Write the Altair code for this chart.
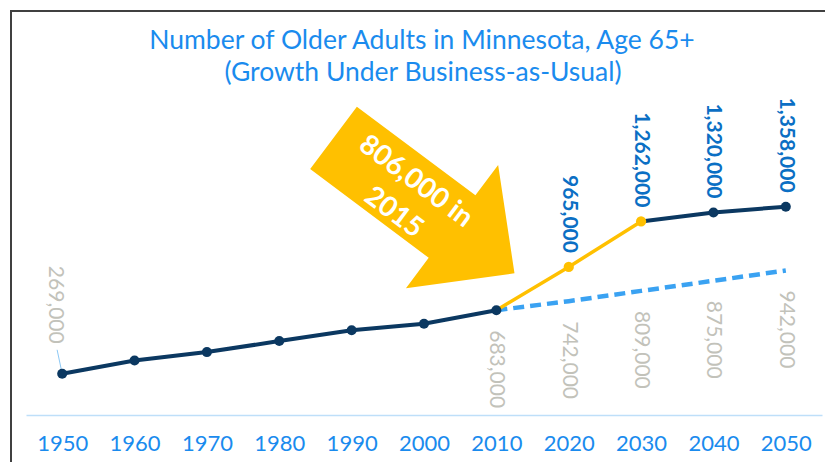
import altair as alt
import pandas as pd

# ---------------- data ----------------
years = [1950, 1960, 1970, 1980, 1990, 2000, 2010, 2020, 2030, 2040, 2050]

hist_years = [1950, 1960, 1970, 1980, 1990, 2000, 2010]
hist_values = [269000, 355000, 410000, 482000, 552000, 595000, 683000]

boom_years = [2010, 2020, 2030]
boom_values = [683000, 965000, 1262000]

late_years = [2030, 2040, 2050]
late_values = [1262000, 1320000, 1358000]

bau_years = [2010, 2020, 2030, 2040, 2050]
bau_values = [683000, 742000, 809000, 875000, 942000]

title_line1 = "Number of Older Adults in Minnesota, Age 65+"
title_line2 = "(Growth Under Business-as-Usual)"
arrow_line1 = "806,000 in"
arrow_line2 = "2015"

# annotation anchors (data space)
arrow_year, arrow_value = [2000], [1365000]
leader_end_year, leader_end_value = 1949.3, 425000

# ---------------- styles ----------------
NAVY = "#0B3861"
GOLD = "#FFC000"
DASH = "#3AA2F2"
TITLE_BLUE = "#1A8BEE"
LABEL_BLUE = "#0B6FC4"
GRAY = "#C2C2BA"
FONT = "Lato"

hist = pd.DataFrame({"year": hist_years, "value": hist_values})
boom = pd.DataFrame({"year": boom_years, "value": boom_values})
late = pd.DataFrame({"year": late_years, "value": late_values})
bau = pd.DataFrame({"year": bau_years, "value": bau_values})

navy_pts = pd.DataFrame({"year": hist_years + late_years[1:],
                         "value": hist_values + late_values[1:]})
gold_pts = pd.DataFrame({"year": boom_years[1:], "value": boom_values[1:]})

gray_below = pd.DataFrame({"year": [hist_years[-1]] + bau_years[1:],
                           "value": [hist_values[-1]] + bau_values[1:]})
gray_above = pd.DataFrame({"year": hist_years[:1], "value": hist_values[:1]})
blue_above = pd.DataFrame({"year": boom_years[1:] + late_years[1:],
                           "value": boom_values[1:] + late_values[1:]})
leader = pd.DataFrame({"year": hist_years[:1], "value": hist_values[:1],
                       "year2": [leader_end_year], "value2": [leader_end_value]})
arrow = pd.DataFrame({"year": arrow_year, "value": arrow_value})

xenc = alt.X("year:Q",
             scale=alt.Scale(domain=[1945, 2055], nice=False, zero=False),
             axis=alt.Axis(values=years, format="d", ticks=False, grid=False,
                           domainColor="#BEDFF9", domainWidth=1.5,
                           labelFont=FONT, labelFontSize=22, labelColor=TITLE_BLUE,
                           labelPadding=18, labelFlush=False, title=None))
yenc = alt.Y("value:Q", scale=alt.Scale(domain=[0, 1760000], nice=False), axis=None)


def enc(ch):
    return ch.encode(x=xenc, y=yenc)


bau_line = enc(alt.Chart(bau).mark_line(color=DASH, strokeWidth=4.5, strokeDash=[11, 6]))
hist_line = enc(alt.Chart(hist).mark_line(color=NAVY, strokeWidth=4))
late_line = enc(alt.Chart(late).mark_line(color=NAVY, strokeWidth=4))
boom_line = enc(alt.Chart(boom).mark_line(color=GOLD, strokeWidth=3.5))

navy_dots = enc(alt.Chart(navy_pts).mark_circle(color=NAVY, size=100, opacity=1))
gold_dots = enc(alt.Chart(gold_pts).mark_circle(color=GOLD, size=105, opacity=1))

leader_rule = alt.Chart(leader).mark_rule(color="#8CC8F5", strokeWidth=1).encode(
    x=xenc, y=yenc, x2="year2:Q", y2="value2:Q")

lbl_gray_below = enc(alt.Chart(gray_below).mark_text(
    angle=90, align="left", baseline="middle", dx=20,
    font=FONT, fontSize=21, color=GRAY)).encode(text=alt.Text("value:Q", format=","))
lbl_gray_above = enc(alt.Chart(gray_above).mark_text(
    angle=90, align="right", baseline="middle", dx=-30, dy=7,
    font=FONT, fontSize=21, color=GRAY)).encode(text=alt.Text("value:Q", format=","))
lbl_blue = enc(alt.Chart(blue_above).mark_text(
    angle=90, align="right", baseline="middle", dx=-14,
    font=FONT, fontSize=21, fontWeight="bold", color=LABEL_BLUE)).encode(
    text=alt.Text("value:Q", format=","))

arrow_shape = "M -1 -0.345 L 0.31 -0.345 L 0.31 -0.681 L 1 0 L 0.31 0.681 L 0.31 0.345 L -1 0.345 Z"
arrow_mark = enc(alt.Chart(arrow).mark_point(
    shape=arrow_shape, filled=True, color=GOLD, opacity=1, size=51076, angle=36.8,
    strokeWidth=0))
arrow_txt1 = enc(alt.Chart(arrow).mark_text(
    text=arrow_line1, angle=36.8, align="center", baseline="middle",
    dx=-21, dy=-14, font=FONT, fontSize=28, fontWeight="bold", color="white"))
arrow_txt2 = enc(alt.Chart(arrow).mark_text(
    text=arrow_line2, angle=36.8, align="center", baseline="middle",
    dx=-20, dy=24, font=FONT, fontSize=28, fontWeight="bold", color="white"))

title1 = alt.Chart(arrow).mark_text(
    text=title_line1, align="center", baseline="alphabetic",
    font=FONT, fontSize=26.5, color=TITLE_BLUE).encode(
    x=alt.value(396), y=alt.value(-96))
title2 = alt.Chart(arrow).mark_text(
    text=title_line2, align="center", baseline="alphabetic",
    font=FONT, fontSize=26.5, color=TITLE_BLUE).encode(
    x=alt.value(397), y=alt.value(-64))

border_top = alt.Chart(arrow).mark_rule(color="#404040", strokeWidth=2).encode(
    x=alt.value(-16), x2=alt.value(810), y=alt.value(-134))
border_left = alt.Chart(arrow).mark_rule(color="#404040", strokeWidth=2).encode(
    x=alt.value(-15), y=alt.value(-135), y2=alt.value(330))

chart = alt.layer(
    border_top, border_left, title1, title2,
    arrow_mark, arrow_txt1, arrow_txt2,
    bau_line, hist_line, late_line, boom_line,
    leader_rule, navy_dots, gold_dots,
    lbl_gray_below, lbl_gray_above, lbl_blue,
).properties(
    width=796, height=270,
    padding={"left": 26, "top": 145, "right": 3, "bottom": 47},
    autosize="none",
    background="white",
).configure_view(stroke=None)

chart.save("out.html", embed_options={"renderer": "svg", "actions": False})
